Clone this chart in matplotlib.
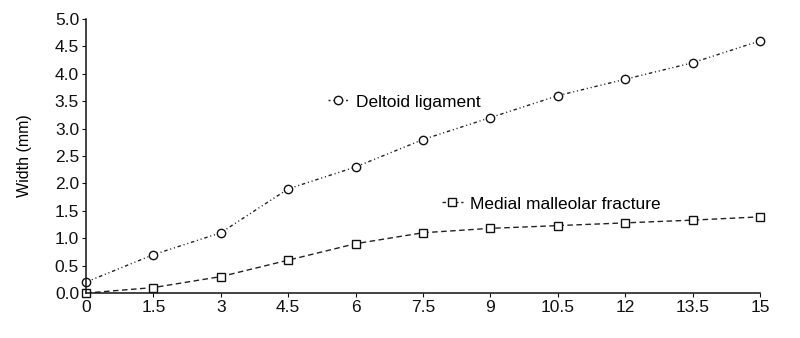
import matplotlib
matplotlib.use("Agg")
import matplotlib.pyplot as plt
from matplotlib.lines import Line2D

plt.rcParams['font.family'] = ['Liberation Sans', 'DejaVu Sans']

x = [0, 1.5, 3, 4.5, 6, 7.5, 9, 10.5, 12, 13.5, 15]
deltoid = [0.2, 0.7, 1.1, 1.9, 2.3, 2.8, 3.2, 3.6, 3.9, 4.2, 4.6]
medial = [0.0, 0.1, 0.3, 0.6, 0.9, 1.1, 1.18, 1.23, 1.28, 1.33, 1.39]
xticks = [0, 1.5, 3, 4.5, 6, 7.5, 9, 10.5, 12, 13.5, 15]
xticklabels = ['0', '1.5', '3', '4.5', '6', '7.5', '9', '10.5', '12', '13.5', '15']
yticks = [0.0, 0.5, 1.0, 1.5, 2.0, 2.5, 3.0, 3.5, 4.0, 4.5, 5.0]

fig = plt.figure(figsize=(8, 3.38), dpi=100)
ax = fig.add_axes([0.1075, 0.133, 0.8425, 0.811])

ax.plot(x, deltoid, color='#222222', lw=1.0, dashes=(2.5, 2, 0.8, 2, 0.8, 2),
        marker='o', ms=6, mfc='white', mec='#111111', mew=1.0, clip_on=False)
ax.plot(x, medial, color='#222222', lw=1.0, dashes=(4, 2.5),
        marker='s', ms=5.5, mfc='white', mec='#111111', mew=1.0, clip_on=False)

ax.set_xlim(0, 15)
ax.set_ylim(0, 5)
ax.set_xticks(xticks)
ax.set_xticklabels(xticklabels)
ax.set_yticks(yticks)
ax.set_yticklabels([f'{v:.1f}' for v in yticks])
ax.spines['top'].set_visible(False)
ax.spines['right'].set_visible(False)
for s in ['left', 'bottom']:
    ax.spines[s].set_linewidth(1.1)
    ax.spines[s].set_color('#111111')
ax.tick_params(axis='both', direction='out', length=3, width=0.8, labelsize=12.5,
               colors='#111111', pad=2)
ax.set_ylabel('Width (mm)', fontsize=11.5, labelpad=16)

h1 = Line2D([], [], color='#222222', lw=1.0, dashes=(1.5, 2, 0.8, 2),
            marker='o', ms=6, mfc='white', mec='#111111', mew=1.0)
h2 = Line2D([], [], color='#222222', lw=1.0, dashes=(2.5, 2),
            marker='s', ms=5.5, mfc='white', mec='#111111', mew=1.0)
leg1 = ax.legend([h1], ['Deltoid ligament'], loc='center left',
                 bbox_to_anchor=(0.359, 0.697), frameon=False, fontsize=12.5,
                 handlelength=1.2, handletextpad=0.4, borderaxespad=0, borderpad=0)
ax.add_artist(leg1)
ax.legend([h2], ['Medial malleolar fracture'], loc='center left',
          bbox_to_anchor=(0.528, 0.325), frameon=False, fontsize=12.5,
          handlelength=1.2, handletextpad=0.4, borderaxespad=0, borderpad=0)

fig.savefig('out.png', dpi=100, facecolor='white')
